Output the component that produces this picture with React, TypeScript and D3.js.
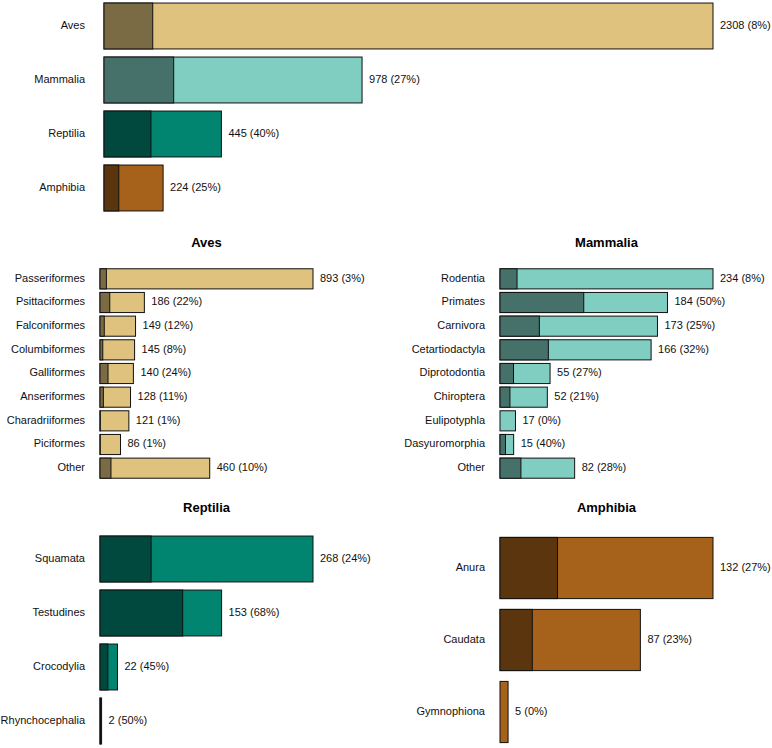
import React from "react";
import * as d3 from "d3";

const classNames = ["Aves", "Mammalia", "Reptilia", "Amphibia"];
const classCounts = [2308, 978, 445, 224];
const classPct = [8, 27, 40, 25];

const avesOrders = ["Passeriformes", "Psittaciformes", "Falconiformes", "Columbiformes", "Galliformes", "Anseriformes", "Charadriiformes", "Piciformes", "Other"];
const avesCounts = [893, 186, 149, 145, 140, 128, 121, 86, 460];
const avesPct = [3, 22, 12, 8, 24, 11, 1, 1, 10];

const mammaliaOrders = ["Rodentia", "Primates", "Carnivora", "Cetartiodactyla", "Diprotodontia", "Chiroptera", "Eulipotyphla", "Dasyuromorphia", "Other"];
const mammaliaCounts = [234, 184, 173, 166, 55, 52, 17, 15, 82];
const mammaliaPct = [8, 50, 25, 32, 27, 21, 0, 40, 28];

const reptiliaOrders = ["Squamata", "Testudines", "Crocodylia", "Rhynchocephalia"];
const reptiliaCounts = [268, 153, 22, 2];
const reptiliaPct = [24, 68, 45, 50];

const amphibiaOrders = ["Anura", "Caudata", "Gymnophiona"];
const amphibiaCounts = [132, 87, 5];
const amphibiaPct = [27, 23, 0];

const lightColors: Record<string, string> = {
  Aves: "#dfc27d",
  Mammalia: "#80cdc1",
  Reptilia: "#018571",
  Amphibia: "#a6611a",
};
const darken = (c: string) => {
  const col = d3.rgb(c);
  return d3.rgb(col.r * 0.55, col.g * 0.55, col.b * 0.55).formatHex();
};

const FONT = "'Liberation Sans', Arial, Helvetica, sans-serif";

type PanelProps = {
  names: string[];
  counts: number[];
  pct: number[];
  colors: string[];
  x0: number;
  x1: number;
  y0: number;
  y1: number;
  labelGap: number;
  title?: string;
  titleY?: number;
};

function Panel({ names, counts, pct, colors, x0, x1, y0, y1, labelGap, title, titleY }: PanelProps) {
  const x = d3.scaleLinear().domain([0, d3.max(counts) as number]).range([x0, x1]);
  const y = d3.scaleBand<string>().domain(names).range([y0, y1]).paddingInner(0.15).paddingOuter(0.075);
  const bw = y.bandwidth();
  return (
    <g>
      {title && (
        <text x={(x0 + x1) / 2} y={titleY} textAnchor="middle" dominantBaseline="middle" fontFamily={FONT} fontWeight="bold" fontSize={13} fill="#000">
          {title}
        </text>
      )}
      {names.map((n, i) => {
        const yy = y(n) as number;
        const total = x(counts[i]) - x(0);
        const dark = (total * pct[i]) / 100;
        const light = colors[i];
        return (
          <g key={n}>
            <rect x={x(0)} y={yy} width={total} height={bw} fill={light} stroke="#111" strokeWidth={1} />
            {pct[i] > 0 && (
              <rect x={x(0)} y={yy} width={dark} height={bw} fill={darken(light)} stroke="#111" strokeWidth={1} />
            )}
            <text x={x0 - labelGap} y={yy + bw / 2} textAnchor="end" dominantBaseline="middle" fontFamily={FONT} fontSize={11} fill="#111">
              {n}
            </text>
            <text x={x(counts[i]) + 7} y={yy + bw / 2} dominantBaseline="middle" fontFamily={FONT} fontSize={11} fill="#111">
              {`${counts[i]} (${pct[i]}%)`}
            </text>
          </g>
        );
      })}
    </g>
  );
}

export default function App() {
  return (
    <svg width={772} height={748} style={{ position: "absolute", left: 0, top: 0, background: "#fff" }}>
      <rect width={772} height={748} fill="#fff" />
      <Panel
        names={classNames}
        counts={classCounts}
        pct={classPct}
        colors={classNames.map((c) => lightColors[c])}
        x0={104}
        x1={713}
        y0={-1}
        y1={215}
        labelGap={19}
      />
      <Panel
        names={avesOrders}
        counts={avesCounts}
        pct={avesPct}
        colors={avesOrders.map(() => lightColors.Aves)}
        x0={100}
        x1={313}
        y0={267}
        y1={480}
        labelGap={15}
        title="Aves"
        titleY={244}
      />
      <Panel
        names={mammaliaOrders}
        counts={mammaliaCounts}
        pct={mammaliaPct}
        colors={mammaliaOrders.map(() => lightColors.Mammalia)}
        x0={500}
        x1={713}
        y0={267}
        y1={480}
        labelGap={15}
        title="Mammalia"
        titleY={244}
      />
      <Panel
        names={reptiliaOrders}
        counts={reptiliaCounts}
        pct={reptiliaPct}
        colors={reptiliaOrders.map(() => lightColors.Reptilia)}
        x0={100}
        x1={313}
        y0={532}
        y1={748}
        labelGap={15}
        title="Reptilia"
        titleY={509}
      />
      <Panel
        names={amphibiaOrders}
        counts={amphibiaCounts}
        pct={amphibiaPct}
        colors={amphibiaOrders.map(() => lightColors.Amphibia)}
        x0={500}
        x1={713}
        y0={532}
        y1={748}
        labelGap={15}
        title="Amphibia"
        titleY={509}
      />
    </svg>
  );
}
